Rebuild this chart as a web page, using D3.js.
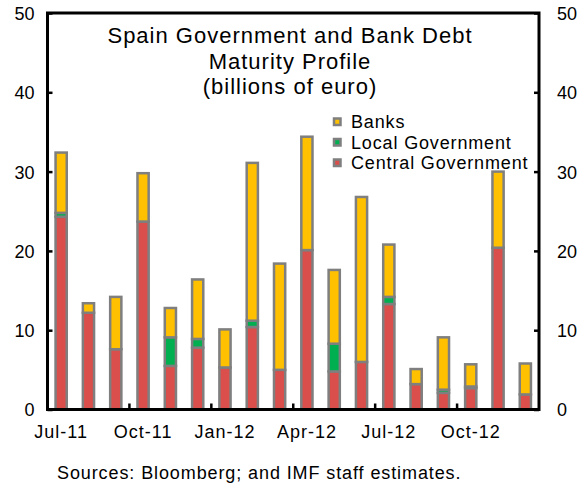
<!DOCTYPE html>
<html>
<head>
<meta charset="utf-8">
<script src="https://cdn.jsdelivr.net/npm/d3@7"></script>
<style>
  body { margin: 0; background: #fff; }
  svg text { font-family: "Liberation Sans", Arial, sans-serif; fill: #000; }
</style>
</head>
<body>
<div id="svg-container"></div>
<script>
// data (billions of euro)
const months = ['Jul-11', 'Aug-11', 'Sep-11', 'Oct-11', 'Nov-11', 'Dec-11',
                'Jan-12', 'Feb-12', 'Mar-12', 'Apr-12', 'May-12', 'Jun-12',
                'Jul-12', 'Aug-12', 'Sep-12', 'Oct-12', 'Nov-12', 'Dec-12'];
const central = [24.3, 12.2, 7.6, 23.7, 5.5, 7.8, 5.3, 10.4, 5.0, 20.1, 4.8, 6.0, 13.3, 3.2, 2.1, 2.7, 20.4, 1.9];
const local   = [0.5, 0, 0, 0, 3.6, 1.1, 0, 0.8, 0, 0, 3.5, 0, 0.9, 0, 0.4, 0.2, 0, 0];
const banks   = [7.6, 1.2, 6.6, 6.1, 3.7, 7.5, 4.8, 19.9, 13.4, 14.3, 9.3, 20.8, 6.6, 1.9, 6.6, 2.8, 9.6, 3.9];
const yTicks = [0, 10, 20, 30, 40, 50];
const xLabels = ['Jul-11', 'Oct-11', 'Jan-12', 'Apr-12', 'Jul-12', 'Oct-12'];
const quarterStarts = ['Oct-11', 'Jan-12', 'Apr-12', 'Jul-12', 'Oct-12'];

const seriesKeys = ['central', 'local', 'banks'];
const seriesNames = { banks: 'Banks', local: 'Local Government', central: 'Central Government' };
const colors = { central: '#DA4F4B', local: '#00B050', banks: '#FFC000' };

// dimensions
const dim = {
    width: 580,
    height: 484,
    plot: { left: 47.5, right: 539, top: 13, bottom: 409.5 }
}

const svg = d3.select('#svg-container')
    .append('svg')
    .attr('width', dim.width)
    .attr('height', dim.height)

// scales
const x = d3.scaleBand()
    .domain(months)
    .range([dim.plot.left, dim.plot.right])

const y = d3.scaleLinear()
    .domain([0, 50])
    .range([dim.plot.bottom, dim.plot.top])

// reshape into rows for d3.stack
const rows = months.map((m, i) => ({ month: m, central: central[i], local: local[i], banks: banks[i] }));
const stacked = d3.stack().keys(seriesKeys)(rows);

const barW = x.bandwidth() * 0.41;

// bars
svg.append('g')
    .selectAll('g')
    .data(stacked)
    .join('g')
        .attr('fill', d => colors[d.key])
    .selectAll('rect')
    .data(d => d.filter(s => s[1] - s[0] > 0))
    .join('rect')
        .attr('x', d => x(d.data.month) + (x.bandwidth() - barW) / 2)
        .attr('y', d => y(d[1]))
        .attr('width', barW)
        .attr('height', d => y(d[0]) - y(d[1]))
        .attr('stroke', '#7F7F7F')
        .attr('stroke-width', 2.5)

// left axis, ticks pointing in
const yLeft = svg.append('g')
    .attr('transform', `translate(${dim.plot.left},0)`)
    .call(d3.axisLeft(y).tickValues(yTicks).tickSize(-5).tickPadding(13))
yLeft.select('.domain').remove();

// right axis, ticks pointing in
const yRight = svg.append('g')
    .attr('transform', `translate(${dim.plot.right},0)`)
    .call(d3.axisRight(y).tickValues(yTicks).tickSize(-5).tickPadding(18))
yRight.select('.domain').remove();

svg.selectAll('.tick line').attr('stroke', '#000').attr('stroke-width', 2.5);
svg.selectAll('.tick text')
    .style('font-size', '18px')
    .style('font-family', '"Liberation Sans", Arial, sans-serif')
    .attr('dy', '0.36em');

// x axis labels under quarter months
const xAxis = svg.append('g')
    .attr('transform', `translate(0,${dim.plot.bottom})`)
    .call(d3.axisBottom(x).tickValues(xLabels).tickSize(0).tickPadding(16))
xAxis.select('.domain').remove();
xAxis.selectAll('text')
    .style('font-size', '18px')
    .style('font-family', '"Liberation Sans", Arial, sans-serif')
    .style('letter-spacing', '1px');

// quarter boundary ticks
svg.append('g')
    .selectAll('line')
    .data(quarterStarts)
    .join('line')
        .attr('x1', d => x(d))
        .attr('x2', d => x(d))
        .attr('y1', dim.plot.bottom)
        .attr('y2', dim.plot.bottom - 6)
        .attr('stroke', '#000')
        .attr('stroke-width', 2.5)

// frame
svg.append('rect')
    .attr('x', dim.plot.left)
    .attr('y', dim.plot.top)
    .attr('width', dim.plot.right - dim.plot.left)
    .attr('height', dim.plot.bottom - dim.plot.top)
    .attr('fill', 'none')
    .attr('stroke', '#000')
    .attr('stroke-width', 3)

// title
const titleLines = ['Spain Government and Bank Debt', 'Maturity Profile', '(billions of euro)'];
svg.append('g')
    .selectAll('text')
    .data(titleLines)
    .join('text')
        .attr('x', 290)
        .attr('y', (d, i) => 43 + i * 25.5)
        .attr('text-anchor', 'middle')
        .style('font-size', '22px')
        .style('letter-spacing', '1px')
        .text(d => d)

// legend
const legendKeys = ['banks', 'local', 'central'];
const legend = svg.append('g')
    .selectAll('g')
    .data(legendKeys)
    .join('g')
        .attr('transform', (d, i) => `translate(333,${117.5 + i * 20.5})`)

legend.append('rect')
    .attr('x', 1)
    .attr('y', 1)
    .attr('width', 6.5)
    .attr('height', 6.5)
    .attr('fill', d => colors[d])
    .attr('stroke', '#7F7F7F')
    .attr('stroke-width', 2.5)

legend.append('text')
    .attr('x', 18)
    .attr('y', 10.8)
    .style('font-size', '18px')
    .style('letter-spacing', '0.85px')
    .text(d => seriesNames[d])

// source note
svg.append('text')
    .attr('x', 57)
    .attr('y', 479)
    .style('font-size', '18px')
    .style('letter-spacing', '0.9px')
    .text('Sources: Bloomberg; and IMF staff estimates.')
</script>
</body>
</html>
